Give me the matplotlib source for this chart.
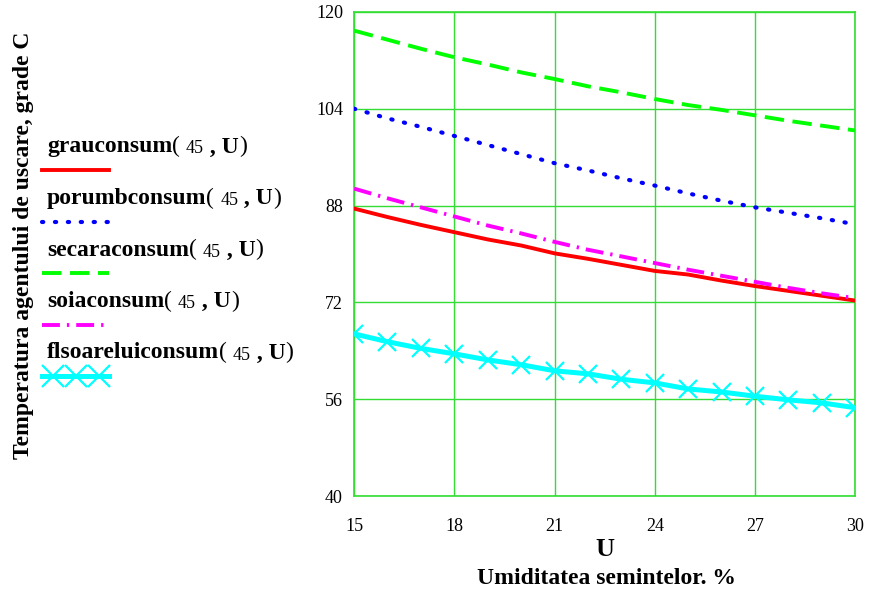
import matplotlib as mpl
mpl.use("agg")
import matplotlib.pyplot as plt
from matplotlib.lines import Line2D
import numpy as np

plt.rcParams["font.family"] = ["Liberation Serif", "DejaVu Serif"]

# umiditatea semintelor, %
U = np.arange(15, 31)

grau = [87.5, 86.1, 84.8, 83.6, 82.4, 81.4, 80.1, 79.2, 78.2, 77.2, 76.6, 75.6, 74.7, 73.9, 73.1, 72.3]
porumb = [104.0, 102.4, 101.0, 99.5, 98.0, 96.5, 95.0, 93.8, 92.5, 91.3, 90.0, 88.8, 87.7, 86.8, 85.9, 84.9]
secara = [116.9, 115.4, 113.9, 112.5, 111.3, 110.0, 108.9, 107.7, 106.7, 105.6, 104.6, 103.8, 102.9, 102.0, 101.2, 100.4]
soia = [90.8, 89.2, 87.7, 86.2, 84.7, 83.4, 82.0, 80.7, 79.6, 78.5, 77.4, 76.4, 75.4, 74.4, 73.5, 72.7]
floarea = [66.8, 65.5, 64.4, 63.5, 62.5, 61.7, 60.7, 60.2, 59.3, 58.7, 57.7, 57.2, 56.5, 55.9, 55.4, 54.6]

names = ["grauconsum", "porumbconsum", "secaraconsum", "soiaconsum", "flsoareluiconsum"]

styles = [
    dict(color="#ff0000", lw=2.8, linestyle="-"),
    dict(color="#0000ff", lw=3.0, dashes=(0.3, 2.8), dash_capstyle="round"),
    dict(color="#00ff00", lw=2.8, dashes=(5.0, 2.2)),
    dict(color="#ff00ff", lw=2.8, dashes=(4.6, 1.8, 0.6, 1.8)),
    dict(color="#00ffff", lw=3.6, linestyle="-", marker="x", markersize=13,
         markeredgewidth=1.6),
]

fig = plt.figure(figsize=(8.7, 5.92), dpi=100)
ax = fig.add_axes([0.407, 0.162, 0.576, 0.818])

series = [grau, porumb, secara, soia, floarea]
for vals, st in zip(series, styles):
    ax.plot(U, vals, **st, zorder=3)

ax.set_xlim(15, 30)
ax.set_ylim(40, 120)
ax.set_xticks(np.arange(15, 31, 3))
ax.set_yticks(np.arange(40, 121, 16))
ax.grid(True, color="#33dd33", lw=1.0)
ax.set_axisbelow(True)
for sp in ax.spines.values():
    sp.set_color("#33dd33")
    sp.set_linewidth(1.2)
ax.tick_params(length=0, labelsize=13, pad=16)
ax.tick_params(axis="y", pad=8)

ax.set_xlabel("U", fontsize=19, fontweight="bold", labelpad=2)
fig.text(0.697, 0.023, "Umiditatea semintelor. %", fontsize=17,
         fontweight="bold", ha="center", va="center")
fig.text(0.027, 0.585, "Temperatura agentului de uscare, grade C", fontsize=17,
         fontweight="bold", rotation=90, ha="center", va="center")

# legend drawn by hand: label above the line sample
y0 = 147
for i, (name, st) in enumerate(zip(names, styles)):
    yt = 1 - (y0 + i * 51.5) / 592
    t = fig.text(47 / 870, yt, name, fontsize=17, fontweight="bold",
                 ha="left", va="center")
    t2 = ax.annotate("( ", xy=(1, 0), xycoords=t, fontsize=17,
                     va="bottom", ha="left", annotation_clip=False)
    t3 = ax.annotate("45", xy=(1, 0), xycoords=t2, fontsize=13,
                     va="bottom", ha="left", annotation_clip=False)
    t4 = ax.annotate(" , U", xy=(1, 0), xycoords=t3, fontsize=17,
                     fontweight="bold", va="bottom", ha="left",
                     annotation_clip=False)
    ax.annotate(")", xy=(1, 0), xycoords=t4, fontsize=17,
                va="bottom", ha="left", annotation_clip=False)
    yl = 1 - (y0 + 23 + i * 51.5) / 592
    line_st = {k: v for k, v in st.items() if not k.startswith("marker")}
    fig.add_artist(Line2D([42 / 870, 109 / 870], [yl, yl],
                          transform=fig.transFigure, **line_st))
    if "marker" in st:
        mx = np.array([53, 76, 99]) / 870
        fig.add_artist(Line2D(mx, [yl] * 3, transform=fig.transFigure,
                              linestyle="none", color=st["color"],
                              marker="x", markersize=16, markeredgewidth=1.6))

fig.savefig("out.png", dpi=100)
